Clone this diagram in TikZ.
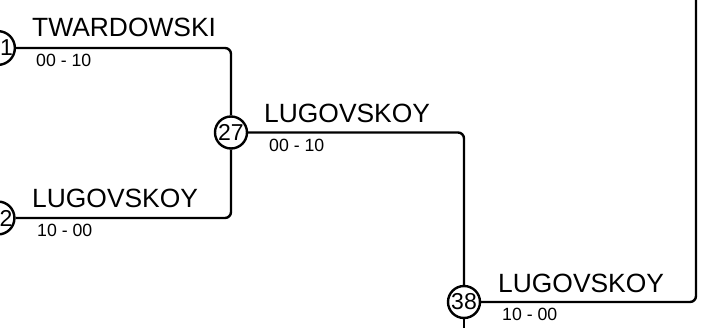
\documentclass[tikz,border=0pt]{standalone}
\usepackage{fontspec}
\setmainfont{Liberation Sans}
\begin{document}
\begin{tikzpicture}[x=1pt,y=-1pt,
  seed/.style={circle,draw,line width=2.4pt,minimum size=32pt,inner sep=0pt,font=\fontsize{23}{23}\selectfont},
  player/.style={anchor=base west,inner sep=0pt,font=\fontsize{26.4}{26.4}\selectfont},
  score/.style={anchor=base west,inner sep=0pt,font=\fontsize{17.7}{17.7}\selectfont},
  wire/.style={line width=2.4pt,rounded corners=6pt}]
\useasboundingbox (0,0) rectangle (715,327);
% seeds
\node[seed] (c1) at (-2,48) {\hspace*{17pt}1};
\node[seed] (c2) at (-2,218) {\hspace*{16pt}2};
\node[seed] (c27) at (231,132.5) {27};
\node[seed] (c38) at (464,302) {38};
% corners
\coordinate (k1) at (231,48);
\coordinate (k2) at (231,218);
\coordinate (k3) at (464,132.5);
\coordinate (k4) at (696,302);
\coordinate (top) at (696,-2);
\coordinate (bot) at (464,330);
% wires
\draw[wire] (c1) -- (k1) -- (c27);
\draw[wire] (c2) -- (k2) -- (c27);
\draw[wire] (c27) -- (k3) -- (c38);
\draw[wire] (c38) -- (k4) -- (top);
\draw[wire] (c38) -- (bot);
% labels
\node[player] (n1) at (32,36) {TWARDOWSKI};
\node[score] (s1) at (36,66) {00 - 10};
\node[player] (n2) at (32,207) {LUGOVSKOY};
\node[score] (s2) at (37,236) {10 - 00};
\node[player] (n27) at (264,122.5) {LUGOVSKOY};
\node[score] (s27) at (269,151.5) {00 - 10};
\node[player] (n38) at (498,292) {LUGOVSKOY};
\node[score] (s38) at (502,320) {10 - 00};
\end{tikzpicture}
\end{document}
